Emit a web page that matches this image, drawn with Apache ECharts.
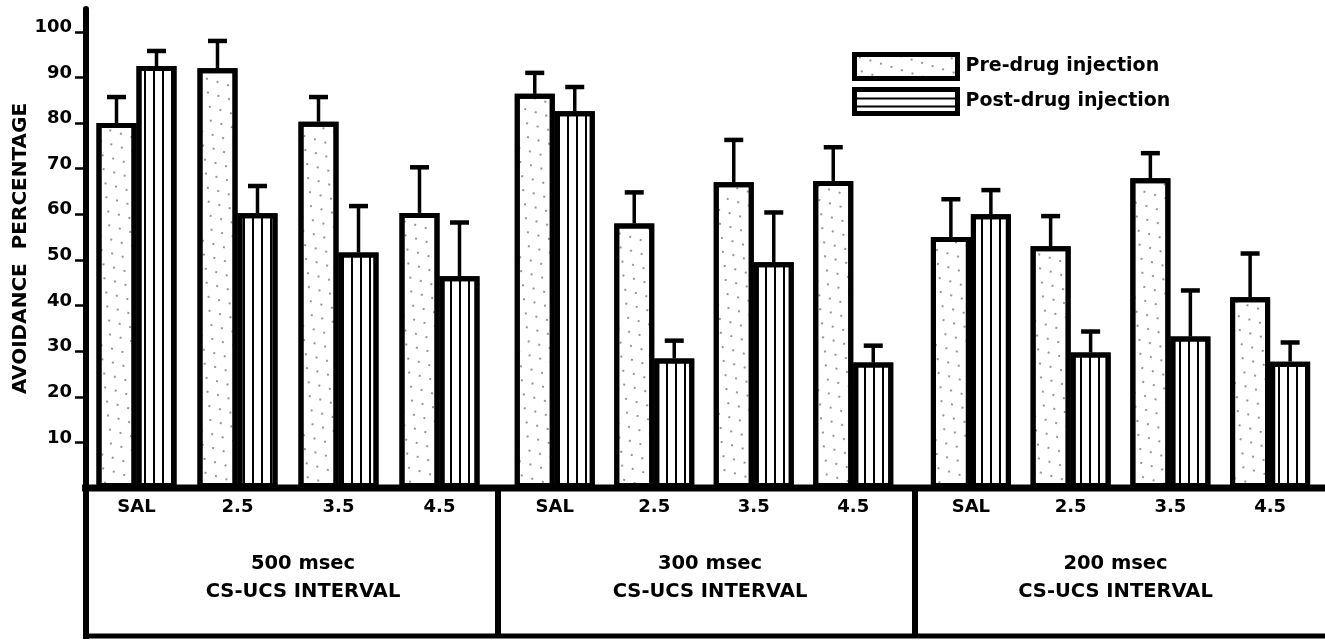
<!DOCTYPE html>
<html>
<head>
<meta charset="utf-8">
<script src="https://cdn.jsdelivr.net/npm/echarts@6/dist/echarts.min.js"></script>
<style>
html,body{margin:0;padding:0;background:#fff;}
#chart{width:1325px;height:641px;}
</style>
</head>
<body>
<div id="chart"></div>
<script>
// ---- data ----
const categories = ['SAL', '2.5', '3.5', '4.5'];
const groupNames = ['500 msec\nCS-UCS INTERVAL', '300 msec\nCS-UCS INTERVAL', '200 msec\nCS-UCS INTERVAL'];
const seriesNames = ['Pre-drug injection', 'Post-drug injection'];
const yTicks = [10, 20, 30, 40, 50, 60, 70, 80, 90, 100];

const pre500 = [80, 92, 80.3, 60.3];
const pre500Err = [85.7, 98, 85.7, 70.3];
const post500 = [92.5, 60.2, 51.6, 46.4];
const post500Err = [95.8, 66.2, 61.8, 58.2];

const pre300 = [86.4, 58, 67, 67.3];
const pre300Err = [91, 64.8, 76.3, 74.7];
const post300 = [82.6, 28.4, 49.5, 27.5];
const post300Err = [87.9, 32.3, 60.4, 31.2];

const pre200 = [55, 53, 67.9, 41.8];
const pre200Err = [63.3, 59.6, 73.4, 51.4];
const post200 = [60, 29.7, 33.2, 27.7];
const post200Err = [65.3, 34.3, 43.3, 31.9];

const preGroups = [pre500, pre300, pre200];
const preErrGroups = [pre500Err, pre300Err, pre200Err];
const postGroups = [post500, post300, post200];
const postErrGroups = [post500Err, post300Err, post200Err];

// ---- style ----
const FONT = 'DejaVu Sans';
const BAR_W = 40;
const gridLefts = [86, 505, 921];
const gridWidths = [404, 398, 399];
const namePads = [[0, 0, 0, 30], [0, 0, 0, 12], [0, 10, 0, 0]];

const preDecal = {
  symbol: 'circle', symbolSize: 1, color: 'rgba(0,0,0,0.55)',
  dashArrayX: [[1.6, 9], [0, 5, 1.6, 4]], dashArrayY: [1.6, 11], rotation: 0.3
};
const postDecal = {
  symbol: 'rect', symbolSize: 1, color: '#000',
  dashArrayX: [1.4, 6.2], dashArrayY: [10, 0], rotation: 0
};
const postLegendDecal = {
  symbol: 'rect', symbolSize: 1, color: '#000',
  dashArrayX: [10, 0], dashArrayY: [1.4, 5.5], rotation: 0
};

function errRender(sign) {
  return function (params, api) {
    const xi = api.value(0);
    const base = api.coord([xi, api.value(1)]);
    const top = api.coord([xi, api.value(2)]);
    const cx = base[0] + sign * BAR_W / 2;
    return {
      type: 'group',
      children: [
        { type: 'line', shape: { x1: cx, y1: base[1], x2: cx, y2: top[1] }, style: { stroke: '#000', lineWidth: 3.5 } },
        { type: 'line', shape: { x1: cx - 9.5, y1: top[1], x2: cx + 9.5, y2: top[1] }, style: { stroke: '#000', lineWidth: 4.5 } }
      ]
    };
  };
}

const grids = [], xAxes = [], yAxes = [], series = [];
for (let g = 0; g < 3; g++) {
  grids.push({ left: gridLefts[g], width: gridWidths[g], top: 9, bottom: 153 });
  xAxes.push({
    type: 'category', gridIndex: g, data: categories,
    axisLine: { show: false }, axisTick: { show: false }, splitLine: { show: false },
    axisLabel: { margin: 10, color: '#000', fontFamily: FONT, fontWeight: 'bold', fontSize: 18 },
    name: groupNames[g], nameLocation: 'middle', nameGap: 62,
    nameTextStyle: { color: '#000', fontFamily: FONT, fontWeight: 'bold', fontSize: 19.5, lineHeight: 28, padding: namePads[g] }
  });
  yAxes.push({
    type: 'value', gridIndex: g, min: 0, max: 105, interval: 5,
    show: g === 0,
    splitLine: { show: false },
    axisLine: { show: g === 0, lineStyle: { color: '#000', width: 6 } },
    axisTick: { show: g === 0, customValues: yTicks, length: 11, inside: false, lineStyle: { color: '#000', width: 2.5 } },
    axisLabel: { show: g === 0, customValues: yTicks, margin: 14, color: '#000', fontFamily: FONT, fontWeight: 'bold', fontSize: 18, verticalAlign: 'bottom', lineHeight: 9 },
    name: g === 0 ? 'AVOIDANCE  PERCENTAGE' : '', nameLocation: 'middle', nameGap: 49, nameRotate: 90,
    nameTextStyle: { color: '#000', fontFamily: FONT, fontWeight: 'bold', fontSize: 20 }
  });
  series.push({
    name: seriesNames[0], type: 'bar', xAxisIndex: g, yAxisIndex: g,
    data: preGroups[g], barWidth: BAR_W, barGap: '0%',
    itemStyle: { color: '#fff', borderColor: '#000', borderWidth: 5, decal: preDecal },
    emphasis: { disabled: true }
  });
  series.push({
    name: seriesNames[1], type: 'bar', xAxisIndex: g, yAxisIndex: g,
    data: postGroups[g], barWidth: BAR_W, barGap: '0%',
    itemStyle: { color: '#fff', borderColor: '#000', borderWidth: 5, decal: postDecal },
    emphasis: { disabled: true }
  });
  series.push({
    type: 'custom', xAxisIndex: g, yAxisIndex: g, z: 5,
    renderItem: errRender(-1), encode: { x: 0, y: [1, 2] },
    data: preGroups[g].map((v, i) => [i, v, preErrGroups[g][i]])
  });
  series.push({
    type: 'custom', xAxisIndex: g, yAxisIndex: g, z: 5,
    renderItem: errRender(1), encode: { x: 0, y: [1, 2] },
    data: postGroups[g].map((v, i) => [i, v, postErrGroups[g][i]])
  });
}

const chart = echarts.init(document.getElementById('chart'), null, { renderer: 'canvas' });
chart.setOption({
  backgroundColor: '#fff',
  animation: false,
  grid: grids,
  xAxis: xAxes,
  yAxis: yAxes,
  legend: {
    data: [
      { name: seriesNames[0] },
      { name: seriesNames[1], itemStyle: { decal: postLegendDecal } }
    ],
    orient: 'vertical', left: 852, top: 52, padding: 0,
    icon: 'rect', itemWidth: 103, itemHeight: 24, itemGap: 6,
    itemStyle: { borderColor: '#000', borderWidth: 5 },
    textStyle: { color: '#000', fontFamily: FONT, fontWeight: 'bold', fontSize: 19, padding: [0, 0, 0, 3] },
    selectedMode: false
  },
  series: series,
  graphic: [
    { type: 'line', shape: { x1: 82, y1: 488, x2: 1325, y2: 488 }, style: { stroke: '#000', lineWidth: 7 }, z: 10 },
    { type: 'line', shape: { x1: 86, y1: 486, x2: 86, y2: 639 }, style: { stroke: '#000', lineWidth: 6 }, z: 10 },
    { type: 'line', shape: { x1: 83, y1: 636, x2: 1325, y2: 636 }, style: { stroke: '#000', lineWidth: 5 }, z: 10 },
    { type: 'line', shape: { x1: 498, y1: 488, x2: 498, y2: 636 }, style: { stroke: '#000', lineWidth: 6 }, z: 10 },
    { type: 'line', shape: { x1: 915, y1: 488, x2: 915, y2: 636 }, style: { stroke: '#000', lineWidth: 6 }, z: 10 }
  ]
});
</script>
</body>
</html>
